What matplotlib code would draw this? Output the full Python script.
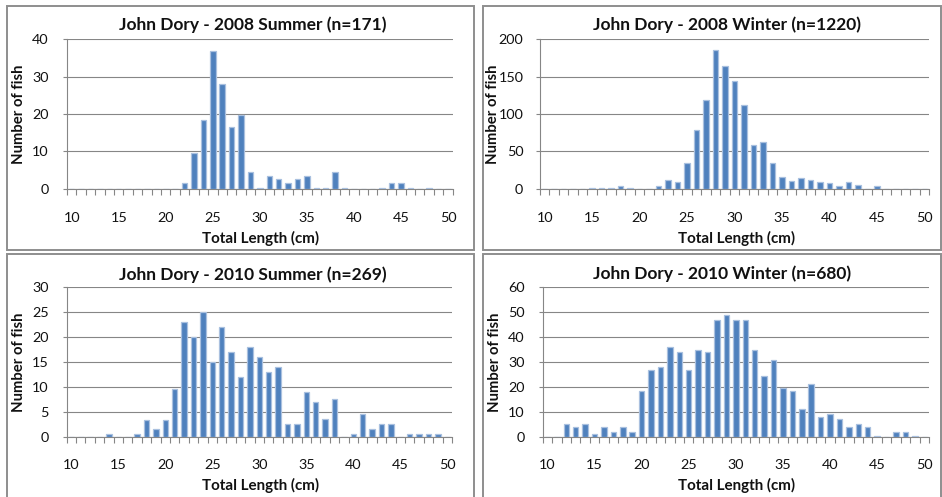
import matplotlib
matplotlib.use("Agg")
import matplotlib.pyplot as plt
from matplotlib.patches import Rectangle
from matplotlib.ticker import FixedLocator

plt.rcParams['font.family'] = ['Lato', 'DejaVu Sans']

# ---------------- data ----------------
lengths = list(range(10, 51))
x_tick_labels = ['10', '15', '20', '25', '30', '35', '40', '45', '50']

titles = ['John Dory - 2008 Summer (n=171)',
          'John Dory - 2008 Winter (n=1220)',
          'John Dory - 2010 Summer (n=269)',
          'John Dory - 2010 Winter (n=680)']

#                 10 11 12 13 14 15 16 17 18 19 20 21 22   23   24   25  26  27    28    29   30   31   32   33   34   35   36   37   38   39   40 41 42 43   44   45   46   47 48   49 50
summer_2008 = [0, 0, 0, 0, 0, 0, 0, 0, 0, 0, 0, 0, 1.5, 9.5, 18.5, 37, 28, 16.5, 19.8, 4.5, 0.3, 3.4, 2.5, 1.5, 2.5, 3.4, 0.3, 0.3, 4.5, 0.3, 0, 0, 0, 0.3, 1.5, 1.5, 0.3, 0, 0.3, 0, 0]
winter_2008 = [0, 0, 0, 0, 0, 1, 1, 1, 4, 1, 0, 0, 4, 12, 9, 34, 78, 119, 186, 164, 144, 112, 58, 62, 34, 16, 10, 14, 12, 9, 7, 3, 9, 5, 0, 3, 0, 0, 0, 0, 0]
summer_2010 = [0, 0, 0, 0, 0.5, 0, 0, 0.5, 3.4, 1.6, 3.4, 9.6, 23, 20, 25, 15, 22, 17, 12, 18, 16, 13, 14, 2.5, 2.5, 9, 7, 3.5, 7.6, 0, 0.5, 4.6, 1.6, 2.5, 2.5, 0, 0.5, 0.5, 0.5, 0.5, 0]
winter_2010 = [0, 0, 5, 4, 5, 1, 4, 2, 4, 2, 18.3, 26.8, 27.8, 35.9, 33.9, 26.8, 34.8, 33.9, 47, 49, 47, 47, 35, 24.4, 31, 19.4, 18.3, 11, 21.3, 8, 9, 7, 4, 5, 4, 0.4, 0, 2, 2, 0.4, 0]

series = [summer_2008, winter_2008, summer_2010, winter_2010]
y_max = [40, 200, 30, 60]
y_step = [10, 50, 5, 10]

# ---------------- layout (pixels) ----------------
W, H = 942, 497
fig = plt.figure(figsize=(W / 100, H / 100), dpi=100)
fig.patch.set_facecolor('white')

borders = [(6.5, 5.5, 474, 250), (483, 5.5, 941, 250),
           (6.5, 254, 474, 499), (483, 254, 941, 499)]
plots = [(67, 39.3, 452.7, 188.7), (540, 39.3, 929, 188.7),
         (66.7, 287.3, 452, 436.7), (542.7, 287.3, 929, 436.7)]
title_pos = [(252.5, 25), (726.7, 25), (252.5, 275), (722.5, 274)]
xlabel_pos = [(261, 238), (736, 238), (261, 485), (736, 485)]
ylabel_pos = [(19, 114), (493, 114), (19, 362), (495, 362)]

GRID = '#868686'
BAR = '#4F81BD'
EDGE = '#A9C0DF'

renderer = fig.canvas.get_renderer()


def fit_size(text, target_w, weight, base=10, rotation=0):
    t = fig.text(0, 0, text, fontsize=base, fontweight=weight, rotation=rotation)
    bb = t.get_window_extent(renderer=renderer)
    w = bb.height if rotation else bb.width
    t.remove()
    return base * target_w / w


title_fs = fit_size(titles[0], 268, 'bold')
xlab_fs = fit_size('Total Length (cm)', 117, 'bold')
ylab_fs = fit_size('Number of fish', 100, 'bold', rotation=90)
tick_fs = fit_size('40', 16.7, 'normal')

for i in range(4):
    bx0, by0, bx1, by1 = borders[i]
    fig.patches.append(Rectangle((bx0 / W, 1 - by1 / H), (bx1 - bx0) / W, (by1 - by0) / H,
                                 transform=fig.transFigure, fill=False,
                                 edgecolor='#8E8E8E', linewidth=1.4))
    x0, y0, x1, y1 = plots[i]
    ax = fig.add_axes([x0 / W, 1 - y1 / H, (x1 - x0) / W, (y1 - y0) / H])
    ax.bar(range(len(lengths)), series[i], width=0.58, color=BAR,
           edgecolor=EDGE, linewidth=0.9, zorder=3)
    ax.set_xlim(-0.5, len(lengths) - 0.5)
    ax.set_ylim(0, y_max[i])
    yt = list(range(0, y_max[i] + 1, y_step[i]))
    ax.set_yticks(yt)
    ax.set_yticklabels([str(v) for v in yt], fontsize=tick_fs, color='#111111')
    ax.yaxis.grid(True, color=GRID, linewidth=0.8, zorder=0)
    ax.set_axisbelow(True)
    major = [lengths.index(int(s)) for s in x_tick_labels]
    ax.set_xticks(major)
    ax.set_xticklabels(x_tick_labels, fontsize=tick_fs, color='#111111')
    ax.xaxis.set_minor_locator(FixedLocator([k - 0.5 for k in range(len(lengths) + 1)]))
    pad = 16.8 if i < 2 else 16.0
    ax.tick_params(axis='x', which='major', length=0, pad=pad)
    ax.tick_params(axis='x', which='minor', length=4.5, width=0.8, color=GRID)
    ypad = 10 if i != 1 else 9
    ax.tick_params(axis='y', which='major', length=3, width=0.8, color=GRID, pad=ypad)
    for s in ['top', 'right']:
        ax.spines[s].set_visible(False)
    for s in ['left', 'bottom']:
        ax.spines[s].set_color(GRID)
        ax.spines[s].set_linewidth(0.8)
    ax.patch.set_alpha(0)

    tx, ty = title_pos[i]
    fig.text(tx / W, 1 - ty / H, titles[i], fontsize=title_fs, fontweight='bold',
             ha='center', va='center', color='#111111')
    lx, ly = xlabel_pos[i]
    fig.text(lx / W, 1 - ly / H, 'Total Length (cm)', fontsize=xlab_fs, fontweight='bold',
             ha='center', va='center', color='#111111')
    vx, vy = ylabel_pos[i]
    fig.text(vx / W, 1 - vy / H, 'Number of fish', fontsize=ylab_fs, fontweight='bold',
             ha='center', va='center', rotation=90, color='#111111')

fig.savefig('out.png', dpi=100, facecolor='white')
